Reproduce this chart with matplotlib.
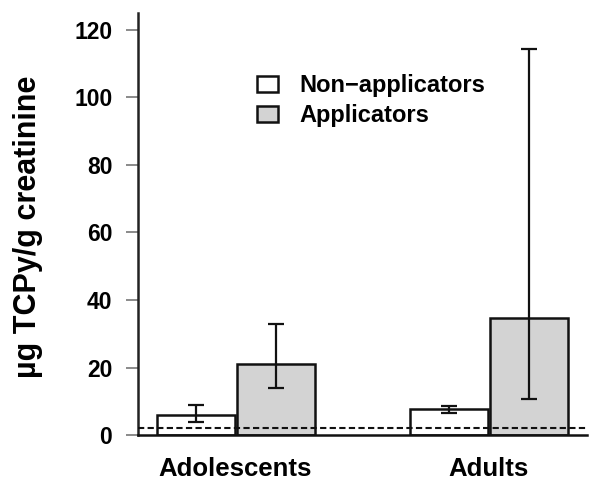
import numpy as np
import matplotlib.pyplot as plt

plt.rcParams['font.family'] = ['Liberation Sans', 'DejaVu Sans']

# Datos
grupos = ['Adolescents', 'Adults']
no_aplicadores = [5.9, 7.6]
no_aplic_bajo = [3.9, 6.4]
no_aplic_alto = [8.9, 8.7]
aplicadores = [21.1, 34.7]
aplic_bajo = [13.9, 10.7]
aplic_alto = [32.9, 114.3]
limite_deteccion = 2.1

fig = plt.figure(figsize=(6, 4.93), dpi=100)
ax = fig.add_axes([0.23, 0.1176, 0.748, 0.856])

x = np.arange(len(grupos))
ancho = 0.31

err_no = [np.array(no_aplicadores) - np.array(no_aplic_bajo),
          np.array(no_aplic_alto) - np.array(no_aplicadores)]
err_ap = [np.array(aplicadores) - np.array(aplic_bajo),
          np.array(aplic_alto) - np.array(aplicadores)]

ax.bar(x - ancho / 2, no_aplicadores, ancho, color='white', edgecolor='#111111',
       linewidth=1.8, label='Non\u2212applicators', zorder=2)
ax.bar(x + ancho / 2 + 0.005, aplicadores, ancho, color='#d3d3d3', edgecolor='#111111',
       linewidth=1.8, label='Applicators', zorder=2)
ax.errorbar(x - ancho / 2, no_aplicadores, yerr=err_no, fmt='none', ecolor='#111111',
            elinewidth=1.6, capsize=6, capthick=1.6, zorder=3)
ax.errorbar(x + ancho / 2 + 0.005, aplicadores, yerr=err_ap, fmt='none', ecolor='#111111',
            elinewidth=1.6, capsize=6, capthick=1.6, zorder=3)

# Límite de detección
ax.axhline(limite_deteccion, color='#111111', linestyle=(0, (3, 1.6)), linewidth=1.5, zorder=4)

ax.set_xlim(-0.385, 1.389)
ax.set_ylim(0, 125)
ax.set_yticks([0, 20, 40, 60, 80, 100, 120])
ax.set_xticks(x)
ax.set_xticklabels(grupos, fontsize=18.5, fontweight='bold')
ax.tick_params(axis='x', length=0, pad=16)
ax.tick_params(axis='y', length=8.5, width=1.2, color='#777777', labelsize=16.5, pad=10)
for t in ax.get_yticklabels():
    t.set_fontweight('bold')

ax.set_ylabel('\u00b5g TCPy/g creatinine', fontsize=22, fontweight='bold')
ax.yaxis.set_label_coords(-0.212, 0.494)

ax.spines['top'].set_visible(False)
ax.spines['right'].set_visible(False)
ax.spines['left'].set_linewidth(1.8)
ax.spines['bottom'].set_linewidth(1.8)
ax.spines['left'].set_color('#222222')
ax.spines['bottom'].set_color('#111111')

ax.legend(loc='upper left', bbox_to_anchor=(0.265, 0.855), frameon=False,
          prop={'weight': 'bold', 'size': 17}, borderpad=0, borderaxespad=0,
          handlelength=0.9, handleheight=0.7, handletextpad=0.9, labelspacing=0.3)

fig.savefig('out.png', dpi=100)
